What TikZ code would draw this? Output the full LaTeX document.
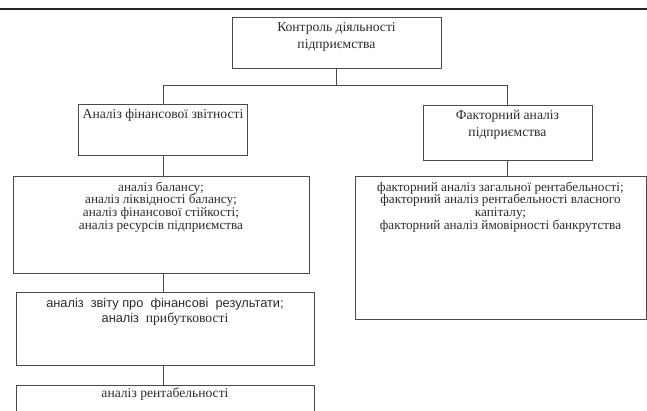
\documentclass[tikz,border=0pt]{standalone}
\usepackage{fontspec}
\setmainfont{Liberation Serif}
\newfontfamily\sansf{Liberation Sans}
\usetikzlibrary{positioning}
\definecolor{linegray}{HTML}{4A4A4A}
\definecolor{textgray}{HTML}{2B2B2B}

\begin{document}
\begin{tikzpicture}[x=1pt, y=-1pt, box/.style={draw=linegray, line width=0.9pt, inner sep=0pt, align=center, text=textgray, font=\fontsize{13.2}{12.6}\selectfont}, head/.style={box, font=\fontsize{13.6}{17}\selectfont}, dims/.style n args={3}{minimum width=#1, text height=#2, text depth=#3}, link/.style={draw=linegray, line width=0.9pt}]
\clip (0,0) rectangle (647,410);
\draw[line width=2.6pt, black!85] (0,9) -- (647,9);
\node[head, dims={209pt}{31pt}{20pt}, anchor=north] (ctrl) at (336.5,17) {Контроль діяльності\\підприємства};
\node[head, dims={169pt}{14pt}{37pt}, below=35pt of ctrl, xshift=-173.5pt] (fin) {Аналіз фінансової звітності};
\node[head, dims={169pt}{31pt}{24pt}, below=36pt of ctrl, xshift=171pt] (fact) {Факторний аналіз\\підприємства};
\node[box, dims={296pt}{52.8pt}{44.2pt}, below=20pt of fin, xshift=-2pt] (bal) {аналіз балансу;\\аналіз ліквідності балансу;\\аналіз фінансової стійкості;\\аналіз ресурсів підприємства};
\node[box, dims={298pt}{30pt}{43pt}, below=18pt of bal, xshift=4pt, font=\fontsize{13.6}{15}\selectfont] (prof) {{\sansf\fontsize{12.8}{15}\selectfont аналіз\ \ звіту про\ \ фінансові\ \ результати;}\\{\sansf\fontsize{12.8}{15}\selectfont аналіз}\ \ прибутковості};
\node[box, dims={298pt}{12pt}{33pt}, below=19pt of prof, font=\fontsize{13.6}{15}\selectfont] (rent) {аналіз рентабельності};
\node[box, dims={291pt}{52.8pt}{90.2pt}, below=15pt of fact, xshift=-7pt] (facts) {факторний аналіз загальної рентабельності;\\факторний аналіз рентабельності власного\\капіталу;\\факторний аналіз ймовірності банкрутства};
\draw[link] (ctrl.south) -- ++(0,17) coordinate (bus);
\draw[link] (fin.north) |- (bus) -| (fact.north);
\draw[link] (fin.south) -- (fin.south |- bal.north);
\draw[link] (fin.south |- bal.south) -- (fin.south |- prof.north);
\draw[link] (fin.south |- prof.south) -- (fin.south |- rent.north);
\draw[link] (fact.south) -- (fact.south |- facts.north);
\end{tikzpicture}
\end{document}
